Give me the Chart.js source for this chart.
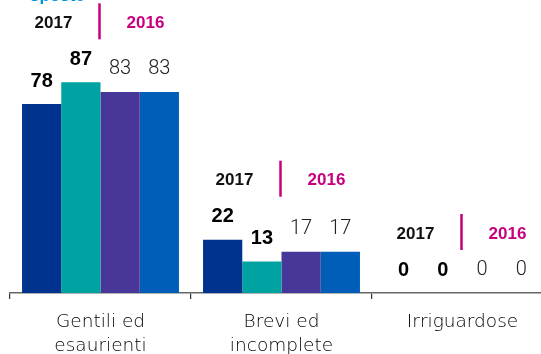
<!DOCTYPE html>
<html>
<head>
<meta charset="utf-8">
<script src="https://cdn.jsdelivr.net/npm/chart.js@4/dist/chart.umd.min.js"></script>
<style>
html,body{margin:0;padding:0;background:#fff;overflow:hidden;width:541px;height:354px;}
#wrap{width:560px;height:354px;}
</style>
</head>
<body>
<div id="wrap"><canvas id="c" width="560" height="354"></canvas></div>
<script>
const categories = [["Gentili ed","esaurienti"],["Brevi ed","incomplete"],["Irriguardose"]];
const seriesNames = ["2017 A","2017 B","2016 A","2016 B"];
const values2017A = [78, 22, 0];
const values2017B = [87, 13, 0];
const values2016A = [83, 17, 0];
const values2016B = [83, 17, 0];
const yearLabels = ["2017", "2016"];
const titleFragment = "sposte";

const colors = ["#00338D", "#00A3A1", "#483698", "#005EB8"];
const boldSeries = [true, true, false, false];

const annot = {
  id: 'annot',
  afterDatasetsDraw(chart) {
    const ctx = chart.ctx;
    const xs = chart.scales.x;
    ctx.save();
    chart.data.datasets.forEach((ds, di) => {
      const meta = chart.getDatasetMeta(di);
      meta.data.forEach((bar, i) => {
        ctx.font = boldSeries[di] ? "bold 20px 'Liberation Sans'" : "300 20px Roboto";
        ctx.fillStyle = boldSeries[di] ? "#000" : "#222";
        ctx.textAlign = "center";
        ctx.textBaseline = "middle";
        ctx.fillText(String(ds.data[i]), bar.x, bar.y - 23);
      });
    });
    categories.forEach((c, i) => {
      const cx = xs.getPixelForValue(i);
      let top = Infinity;
      chart.data.datasets.forEach((ds, di) => {
        const b = chart.getDatasetMeta(di).data[i];
        top = Math.min(top, b.y);
      });
      const ly = top - 59;
      ctx.font = "bold 17px 'Liberation Sans'";
      ctx.textAlign = "center";
      ctx.textBaseline = "middle";
      ctx.fillStyle = "#111";
      ctx.fillText(yearLabels[0], cx - 47, ly);
      ctx.fillStyle = "#C6007E";
      ctx.fillText(yearLabels[1], cx + 45, ly);
      ctx.strokeStyle = "#C6007E";
      ctx.lineWidth = 2.5;
      ctx.beginPath();
      ctx.moveTo(cx - 1, ly - 20);
      ctx.lineTo(cx - 1, ly + 16);
      ctx.stroke();
    });
    ctx.font = "bold 17px 'Liberation Sans'";
    ctx.fillStyle = "#0091DA";
    ctx.textAlign = "left";
    ctx.textBaseline = "alphabetic";
    ctx.fillText(titleFragment, 30, 0.5);
    ctx.restore();
  }
};

const datasets = [values2017A, values2017B, values2016A, values2016B].map((v, i) => ({
  label: seriesNames[i],
  data: v,
  backgroundColor: colors[i],
  borderWidth: 0,
  categoryPercentage: 0.867,
  barPercentage: 1.0
}));

new Chart(document.getElementById('c'), {
  type: 'bar',
  data: { labels: categories, datasets },
  options: {
    responsive: false,
    animation: false,
    layout: { padding: { left: 10, right: 7, top: 0, bottom: 0 } },
    plugins: { legend: { display: false }, tooltip: { enabled: false }, title: { display: false } },
    scales: {
      x: {
        afterFit: s => { s.height = 61; },
        border: { display: true, color: '#666', width: 1.5 },
        grid: { display: true, drawOnChartArea: false, drawTicks: true, tickLength: 6, offset: true, color: '#333', lineWidth: 1.2 },
        ticks: { color: '#000', padding: 11, maxRotation: 0, autoSkip: false,
          font: { family: "'DejaVu Sans'", weight: '200', size: 18.5, lineHeight: 1.3 } }
      },
      y: { display: false, min: 0, max: 121 }
    }
  },
  plugins: [annot]
});
</script>
</body>
</html>
